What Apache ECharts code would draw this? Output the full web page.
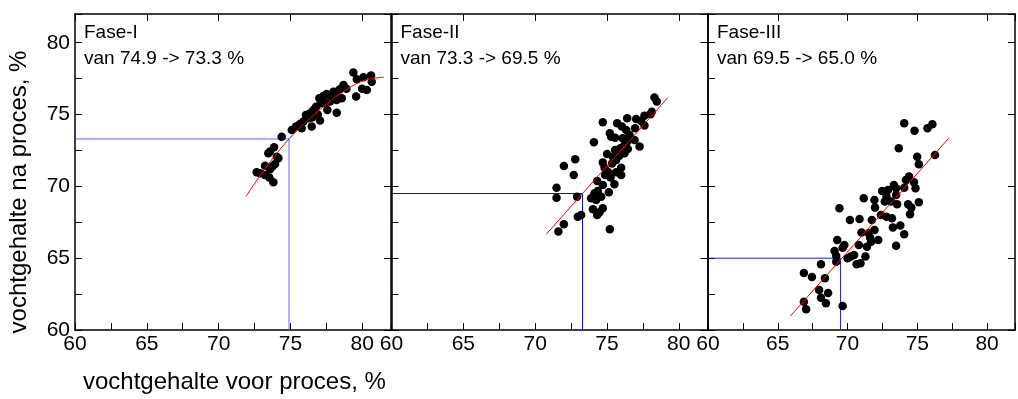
<!DOCTYPE html>
<html>
<head>
<meta charset="utf-8">
<script src="https://cdn.jsdelivr.net/npm/echarts@6/dist/echarts.min.js"></script>
<style>
  html, body { margin: 0; padding: 0; background: #fff; }
  #chart { width: 1018px; height: 399px; }
</style>
</head>
<body>
<div id="chart"></div>
<script>
// Moisture content before vs. after each drying phase (%)
const phaseNames = ['Fase-I', 'Fase-II', 'Fase-III'];
const moistureIn = [74.9, 73.3, 69.5];   // mean moisture before the phase
const moistureOut = [73.3, 69.5, 65.0];  // mean moisture after the phase
const xLabel = 'vochtgehalte voor proces, %';
const yLabel = 'vochtgehalte na proces, %';

// Fase-I measurements
const fase1X = [79.38, 79.62, 80.08, 80.61, 80.66, 79.99, 80.31, 79.57, 78.69, 78.45, 78.22, 77.99, 78.57, 78.22,
  77.52, 77.29, 77.01, 77.76, 77.41, 77.11, 77.57, 78.22, 76.78, 76.60, 76.36, 76.08, 76.25, 75.90, 77.06,
  76.48, 75.67, 75.39, 75.78, 75.09, 76.9, 77.8, 78.9, 76.5,
  74.39, 73.86, 73.58, 73.46, 74.05, 73.93, 73.58, 73.23, 72.88, 72.65, 73.23, 73.53, 73.81, 74.16, 73.75];
const fase1Y = [77.92, 77.46, 77.60, 77.71, 77.29, 76.80, 76.71, 76.25, 77.06, 76.76, 76.59, 76.59, 76.13, 76.01,
  76.43, 76.29, 76.13, 75.90, 75.78, 75.78, 75.32, 75.13, 75.55, 75.32, 75.09, 74.97, 74.74, 74.51, 74.58,
  74.16, 74.34, 74.16, 74.04, 73.93, 75.00, 76.30, 76.80, 74.80,
  73.46, 72.72, 72.42, 72.30, 72.07, 71.56, 71.19, 71.44, 70.91, 70.98, 70.79, 70.61, 70.29, 71.95, 71.40];

// Fase-II measurements
const fase2X = [78.31, 78.47, 78.03, 77.61, 77.03, 76.41, 75.71, 74.71, 76.04, 76.34, 76.96, 77.61, 75.20, 75.57,
  75.29, 76.57, 76.10, 76.92, 77.27, 74.09, 76.41, 76.22, 76.45, 75.94, 75.57, 75.01, 76.22, 75.87, 75.64,
  75.36, 74.71, 72.79, 72.00, 72.69, 74.83, 75.06, 75.99, 75.64, 75.99, 74.87, 75.25, 74.32, 74.71, 75.52,
  74.36, 75.13, 74.13, 73.90, 74.25, 74.60, 74.02, 74.71, 74.48, 74.32, 71.49, 71.49, 72.92, 72.97, 73.20,
  72.00, 71.62, 75.20, 77.38, 78.12, 75.41];
const fase2Y = [76.18, 75.90, 75.02, 74.92, 74.69, 74.74, 74.39, 74.46, 74.16, 73.93, 74.04, 74.23, 73.69, 73.39,
  73.46, 73.58, 73.35, 73.23, 72.77, 73.07, 73.11, 72.88, 72.60, 72.65, 72.53, 72.25, 72.30, 72.14, 71.84,
  71.60, 71.67, 71.88, 71.42, 70.79, 71.30, 71.02, 71.30, 70.98, 70.79, 70.79, 70.61, 70.37, 70.10, 70.14,
  69.68, 69.59, 69.52, 69.17, 69.05, 69.28, 68.40, 68.47, 68.19, 68.01, 69.91, 69.21, 69.28, 67.89, 68.01,
  67.36, 66.85, 67.01, 74.55, 75.20, 72.07];

// Fase-III measurements
const fase3X = [69.42, 70.17, 69.26, 69.77, 69.65, 69.07, 69.19, 70.00, 70.23, 70.47, 70.65, 70.93, 71.28, 69.19,
  68.10, 66.87, 67.45, 68.38, 67.96, 68.61, 68.10, 68.45, 66.87, 67.03, 69.65,
  74.06, 74.80, 75.73, 76.08, 73.67, 74.99, 75.11, 76.27, 74.41, 74.18, 74.76, 74.87, 73.32, 73.48, 74.06,
  72.90, 72.48, 72.79, 73.48, 72.67, 73.13, 73.55, 74.34, 74.57, 75.11, 71.16, 71.93, 71.97, 74.48, 72.39,
  72.79, 73.18, 70.86, 71.74, 73.78, 73.25, 74.06, 71.93, 71.00, 71.51, 71.62, 72.20, 71.69, 70.81, 71.39, 73.48];
const fase3Y = [68.47, 67.66, 66.27, 65.92, 65.73, 65.50, 65.15, 64.99, 65.11, 65.22, 64.57, 64.64, 65.11, 64.76,
  64.57, 63.97, 63.69, 63.60, 62.78, 62.58, 62.25, 61.86, 61.97, 61.44, 61.67,
  74.39, 73.88, 74.05, 74.32, 72.65, 72.07, 71.54, 72.19, 70.68, 70.45, 70.28, 69.87, 70.10, 69.87, 69.91,
  69.75, 69.68, 69.29, 69.40, 68.94, 68.94, 68.75, 68.75, 68.52, 68.89, 69.17, 69.05, 68.52, 68.06, 68.01,
  67.89, 67.78, 67.73, 67.66, 67.27, 67.13, 66.66, 66.96, 66.78, 66.73, 66.43, 66.27, 66.15, 65.92, 65.80, 65.87];

// Fitted trend lines (red)
const fit1X = [71.9, 72.3, 73.5, 74.9, 76.1, 77.3, 78.45, 79.6, 80.4, 81.5];
const fit1Y = [69.3, 69.9, 71.6, 73.3, 74.5, 75.55, 76.45, 77.15, 77.45, 77.6];
const fit2X = [70.77, 79.24];
const fit2Y = [66.66, 76.18];
const fit3X = [65.9, 77.25];
const fit3Y = [60.97, 73.35];

const pointsX = [fase1X, fase2X, fase3X];
const pointsY = [fase1Y, fase2Y, fase3Y];
const fitX = [fit1X, fit2X, fit3X];
const fitY = [fit1Y, fit2Y, fit3Y];
const guideColors = ['#6464ff', '#0000ff', '#1c1cdc'];

const AXIS_MIN = 60, AXIS_MAX = 82;
const FONT = "'Liberation Sans', Arial, sans-serif";
const TICK_FONT = "'Liberation Sans Narrow', 'Liberation Sans', Arial, sans-serif";

const panelLeft = [75, 391.5, 708];
const panelTop = 14, panelSize = 316;

const zip = (xs, ys) => xs.map((x, i) => [x, ys[i]]);
const axisLine = { show: true, onZero: false, lineStyle: { color: '#000', width: 1.5 } };
const tickStyle = { inside: true, length: 7, lineStyle: { color: '#000', width: 1 } };
const fiveOnly = v => (Math.abs(v % 5) < 1e-9 ? String(v) : '');

const grids = [], xAxes = [], yAxes = [], series = [], graphics = [];

for (let i = 0; i < 3; i++) {
  grids.push({ left: panelLeft[i], top: panelTop, width: panelSize, height: panelSize, containLabel: false });

  // bottom & top x axes
  xAxes.push({
    type: 'value', gridIndex: i, position: 'bottom', min: AXIS_MIN, max: AXIS_MAX, interval: 2.5,
    axisLine, axisTick: tickStyle, splitLine: { show: false },
    axisLabel: { formatter: fiveOnly, color: '#000', fontFamily: TICK_FONT, fontSize: 21, margin: 4 }
  });
  xAxes.push({
    type: 'value', gridIndex: i, position: 'top', min: AXIS_MIN, max: AXIS_MAX, interval: 5,
    axisLine, axisTick: tickStyle, splitLine: { show: false }, axisLabel: { show: false }
  });
  // left & right y axes
  yAxes.push({
    type: 'value', gridIndex: i, position: 'left', min: AXIS_MIN, max: AXIS_MAX, interval: 2.5,
    axisLine, axisTick: tickStyle, splitLine: { show: false },
    axisLabel: { show: i === 0, formatter: fiveOnly, color: '#000', fontFamily: TICK_FONT, fontSize: 21, margin: 5 }
  });
  yAxes.push({
    type: 'value', gridIndex: i, position: 'right', min: AXIS_MIN, max: AXIS_MAX, interval: 5,
    axisLine, axisTick: tickStyle, splitLine: { show: false }, axisLabel: { show: false }
  });

  // guide lines: before-value on x, after-value on y
  series.push({
    type: 'line', xAxisIndex: 2 * i, yAxisIndex: 2 * i, silent: true, symbol: 'none', z: 1,
    lineStyle: { color: guideColors[i], width: 1 },
    data: [[AXIS_MIN, moistureOut[i]], [moistureIn[i], moistureOut[i]], [moistureIn[i], AXIS_MIN]]
  });
  series.push({
    type: 'scatter', xAxisIndex: 2 * i, yAxisIndex: 2 * i, symbolSize: 8.5, z: 2,
    itemStyle: { color: '#000', opacity: 1 },
    data: zip(pointsX[i], pointsY[i])
  });
  series.push({
    type: 'line', xAxisIndex: 2 * i, yAxisIndex: 2 * i, silent: true, symbol: 'none', z: 3,
    smooth: fitX[i].length > 2 ? 0.4 : false,
    lineStyle: { color: '#ff0000', width: 1 },
    data: zip(fitX[i], fitY[i])
  });

  graphics.push({
    type: 'text', left: panelLeft[i] + 9, top: 23,
    style: { text: phaseNames[i], font: `19px ${FONT}`, fill: '#000' }
  });
  graphics.push({
    type: 'text', left: panelLeft[i] + 9, top: 49,
    style: { text: `van ${moistureIn[i].toFixed(1)} -> ${moistureOut[i].toFixed(1)} %`, font: `19px ${FONT}`, fill: '#000' }
  });
}

graphics.push({
  type: 'text', left: 83, top: 370,
  style: { text: xLabel, font: `24px ${FONT}`, fill: '#000' }
});
graphics.push({
  type: 'text', x: 19, y: 192, rotation: Math.PI / 2,
  style: { text: yLabel, font: `24px ${FONT}`, fill: '#000', align: 'center', verticalAlign: 'middle' }
});

const chart = echarts.init(document.getElementById('chart'), null, { renderer: 'canvas' });
chart.setOption({
  animation: false,
  backgroundColor: '#fff',
  grid: grids,
  xAxis: xAxes,
  yAxis: yAxes,
  series,
  graphic: graphics
});
</script>
</body>
</html>
